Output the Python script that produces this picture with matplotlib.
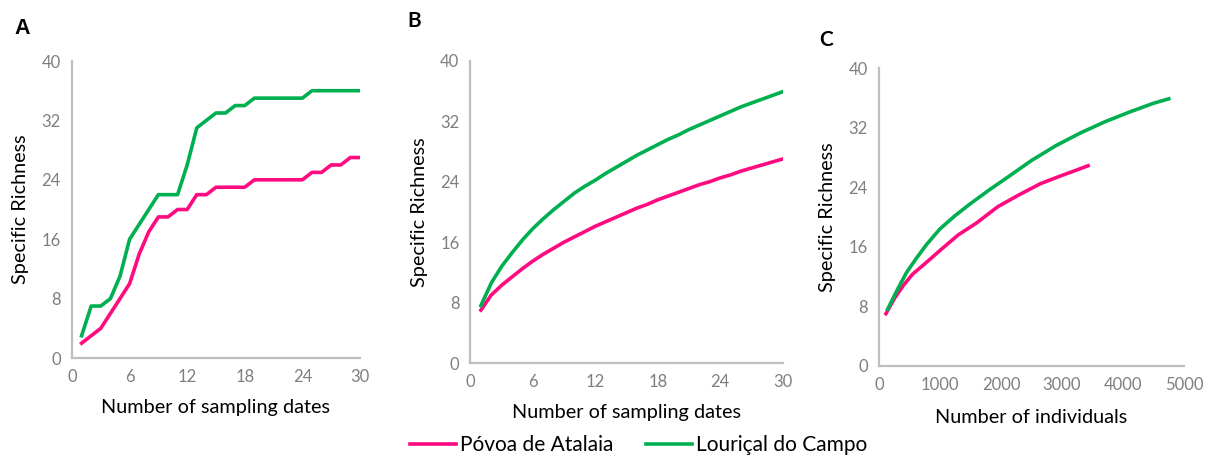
import matplotlib.pyplot as plt
from matplotlib.lines import Line2D

# Panel A: observed accumulation per sampling date
dates_a = list(range(1, 31))
louri_a = [3, 7, 7, 8, 11, 16, 18, 20, 22, 22, 22, 26, 31, 32, 33, 33, 34, 34, 35, 35,
           35, 35, 35, 35, 36, 36, 36, 36, 36, 36]
povoa_a = [2, 3, 4, 6, 8, 10, 14, 17, 19, 19, 20, 20, 22, 22, 23, 23, 23, 23, 24, 24,
           24, 24, 24, 24, 25, 25, 26, 26, 27, 27]

# Panel B: rarefied curve by sampling dates
dates_b = list(range(1, 31))
louri_b = [7.6, 10.6, 12.8, 14.6, 16.3, 17.8, 19.1, 20.3, 21.4, 22.5, 23.4, 24.2, 25.1,
           25.9, 26.7, 27.5, 28.2, 28.9, 29.6, 30.2, 30.9, 31.5, 32.1, 32.7, 33.3, 33.9,
           34.4, 34.9, 35.4, 35.9]
povoa_b = [7.0, 9.0, 10.3, 11.4, 12.5, 13.5, 14.4, 15.2, 16.0, 16.7, 17.4, 18.1, 18.7,
           19.3, 19.9, 20.5, 21.0, 21.6, 22.1, 22.6, 23.1, 23.6, 24.0, 24.5, 24.9, 25.4,
           25.8, 26.2, 26.6, 27.0]

# Panel C: rarefied curve by individuals
indiv_louri = [142, 300, 450, 600, 780, 1000, 1250, 1500, 1800, 2100, 2500, 2900, 3300,
               3700, 4100, 4500, 4750]
louri_c = [7.6, 10.2, 12.5, 14.3, 16.3, 18.4, 20.2, 21.8, 23.6, 25.3, 27.6, 29.6, 31.3,
           32.8, 34.1, 35.3, 35.9]
indiv_povoa = [115, 250, 400, 550, 750, 1000, 1300, 1600, 1950, 2300, 2650, 3000, 3200, 3428]
povoa_c = [7.0, 9.0, 10.8, 12.3, 13.7, 15.5, 17.6, 19.2, 21.4, 23.0, 24.5, 25.6, 26.2, 26.9]

pink = '#FF0A80'
green = '#00B050'
grey = '#BFBFBF'

plt.rcParams['font.family'] = ['Lato', 'DejaVu Sans']

fig = plt.figure(figsize=(12.12, 4.58), dpi=100)
ax_a = fig.add_axes([0.0594, 0.2183, 0.2376, 0.6485])
ax_b = fig.add_axes([0.3882, 0.2074, 0.2576, 0.6600])
ax_c = fig.add_axes([0.7252, 0.2015, 0.2517, 0.6493])


def style(ax, xmax, xstep, xlabel, xpad):
    ax.set_xlim(0, xmax)
    ax.set_ylim(0, 40)
    ax.set_xticks(range(0, xmax + 1, xstep))
    ax.set_yticks(range(0, 41, 8))
    for s in ['top', 'right']:
        ax.spines[s].set_visible(False)
    for s in ['left', 'bottom']:
        ax.spines[s].set_color(grey)
        ax.spines[s].set_linewidth(1.6)
    ax.tick_params(length=0, labelsize=12, colors='#7F7F7F', pad=8)
    ax.set_xlabel(xlabel, fontsize=14.3, labelpad=xpad)
    ax.set_ylabel('Specific Richness', fontsize=14.3, labelpad=9)


ax_a.plot(dates_a, povoa_a, color=pink, lw=2.6)
ax_a.plot(dates_a, louri_a, color=green, lw=2.6)
style(ax_a, 30, 6, 'Number of sampling dates', 10)

ax_b.plot(dates_b, povoa_b, color=pink, lw=2.6)
ax_b.plot(dates_b, louri_b, color=green, lw=2.6)
style(ax_b, 30, 6, 'Number of sampling dates', 10)

ax_c.plot(indiv_povoa, povoa_c, color=pink, lw=2.6)
ax_c.plot(indiv_louri, louri_c, color=green, lw=2.6)
style(ax_c, 5000, 1000, 'Number of individuals', 12)

fig.text(0.012, 0.925, 'A', fontsize=15.5, fontweight='bold', family='Liberation Sans')
fig.text(0.336, 0.94, 'B', fontsize=15, fontweight='bold')
fig.text(0.676, 0.90, 'C', fontsize=15, fontweight='bold')

handles = [Line2D([], [], color=pink, lw=2.6), Line2D([], [], color=green, lw=2.6)]
fig.legend(handles, ['Póvoa de Atalaia', 'Louriçal do Campo'], loc='center',
           bbox_to_anchor=(0.527, 0.028), ncol=2, frameon=False, fontsize=15,
           handlelength=2.2, handletextpad=0.2, columnspacing=1.6)

fig.savefig('out.png', dpi=100)
